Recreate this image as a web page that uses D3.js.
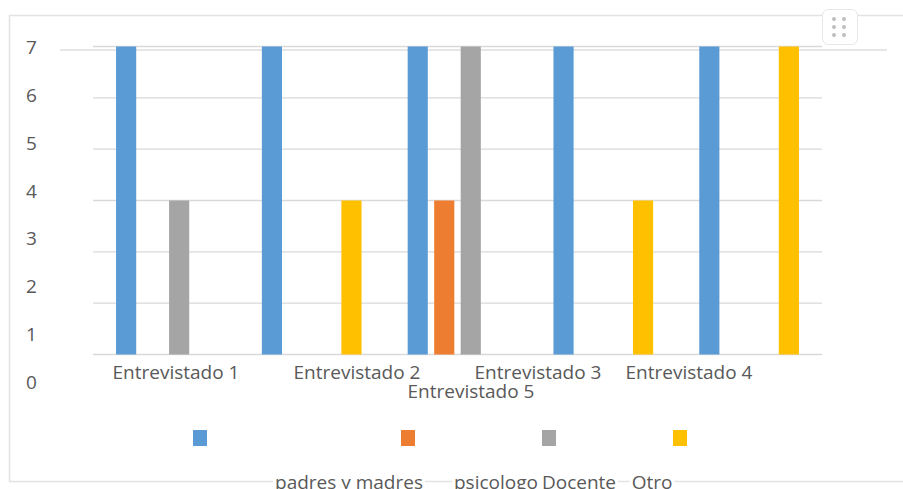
<!DOCTYPE html>
<html>
<head>
<meta charset="utf-8">
<script src="https://cdn.jsdelivr.net/npm/d3@7"></script>
<style>
  html, body { margin: 0; padding: 0; background: #fff; overflow: hidden; }
  svg text { font-family: "Open Sans", "DejaVu Sans", sans-serif; fill: #595959; }
</style>
</head>
<body>
<svg id="chart" width="903" height="489"></svg>
<script>
// data
const categories = ["Entrevistado 1", "Entrevistado 2", "Entrevistado 3", "Entrevistado 4", "Entrevistado 5"];
const seriesNames = ["padres y madres", "psicologo", "Docente", "Otro"];
const padres = [7, 7, 7, 7, 7];
const psicologo = [0, 0, 4, 0, 0];
const docente = [4, 0, 7, 0, 0];
const otro = [0, 4, 0, 4, 7];
const yTicks = [0, 1, 2, 3, 4, 5, 6, 7];

const colors = ["#5b9bd5", "#ed7d31", "#a5a5a5", "#ffc000"];

// the labels in the original sit in odd places, kept as layout here
const catLabelPos = [[176, 379], [357, 379], [538, 379], [689, 379], [471, 398]];
const legendSwatchX = [200, 408, 549, 680];
const legendLabelX = [349, 496, 579, 652];

const svg = d3.select("#chart");
const rows = [padres, psicologo, docente, otro];
const fs = 19;

const x0 = d3.scaleBand().domain(categories).range([93, 822]);
const x1 = d3.scaleBand().domain(seriesNames).range([0, x0.bandwidth()])
  .paddingInner(0.24).paddingOuter(0.87);
const y = d3.scaleLinear().domain([1, 7]).range([354.5, 46.5]);
const yLab = d3.scaleLinear().domain([0, 7]).range([389, 54]);

// frame
svg.append("rect")
  .attr("x", 9.5).attr("y", 15.5)
  .attr("width", 910).attr("height", 466)
  .attr("fill", "none").attr("stroke", "#e3e3e3").attr("stroke-width", 1.5);

// gridlines
svg.append("g").selectAll("line")
  .data(d3.range(1, 8))
  .join("line")
  .attr("x1", 93).attr("x2", 822)
  .attr("y1", d => y(d)).attr("y2", d => y(d))
  .attr("stroke", "#d9d9d9").attr("stroke-width", 1.3);

svg.append("line")
  .attr("x1", 60).attr("x2", 887)
  .attr("y1", 50).attr("y2", 50)
  .attr("stroke", "#dedede").attr("stroke-width", 1.3);

// y labels
svg.append("g").selectAll("text")
  .data(yTicks)
  .join("text")
  .attr("x", 26).attr("y", d => yLab(d))
  .attr("font-size", fs)
  .text(d => d);

// bars
const bars = [];
categories.forEach((c, i) => {
  seriesNames.forEach((s, j) => {
    if (rows[j][i] > 0) bars.push({cat: c, series: s, idx: j, value: rows[j][i]});
  });
});

svg.append("g").selectAll("rect")
  .data(bars)
  .join("rect")
  .attr("x", d => x0(d.cat) + x1(d.series))
  .attr("width", x1.bandwidth())
  .attr("y", d => y(d.value))
  .attr("height", d => y(1) - y(d.value))
  .attr("fill", d => colors[d.idx]);

// category labels
svg.append("g").selectAll("text")
  .data(categories)
  .join("text")
  .attr("x", (d, i) => catLabelPos[i][0])
  .attr("y", (d, i) => catLabelPos[i][1])
  .attr("text-anchor", "middle")
  .attr("font-size", fs)
  .text(d => d);

// legend
const leg = svg.append("g");
leg.selectAll("rect.sw")
  .data(seriesNames)
  .join("rect")
  .attr("class", "sw")
  .attr("x", (d, i) => legendSwatchX[i] - 7)
  .attr("y", 430)
  .attr("width", 14).attr("height", 16)
  .attr("fill", (d, i) => colors[i]);

const legText = leg.selectAll("text")
  .data(seriesNames)
  .join("text")
  .attr("x", (d, i) => legendLabelX[i])
  .attr("y", 489)
  .attr("text-anchor", "middle")
  .attr("font-size", fs)
  .text(d => d);

legText.each(function() {
  const b = this.getBBox();
  leg.insert("rect", "text")
    .attr("x", b.x - 2).attr("y", b.y)
    .attr("width", b.width + 4).attr("height", b.height)
    .attr("fill", "#fff");
});

// menu button top right
const btn = svg.append("g");
btn.append("rect")
  .attr("x", 822.5).attr("y", 9.5)
  .attr("width", 35).attr("height", 35).attr("rx", 6)
  .attr("fill", "#fff").attr("stroke", "#e6e6e6");
btn.selectAll("circle")
  .data(d3.range(6))
  .join("circle")
  .attr("cx", d => 834 + (d % 2) * 10)
  .attr("cy", d => 19 + Math.floor(d / 2) * 8)
  .attr("r", 2)
  .attr("fill", "#bdbdbd");
</script>
</body>
</html>
